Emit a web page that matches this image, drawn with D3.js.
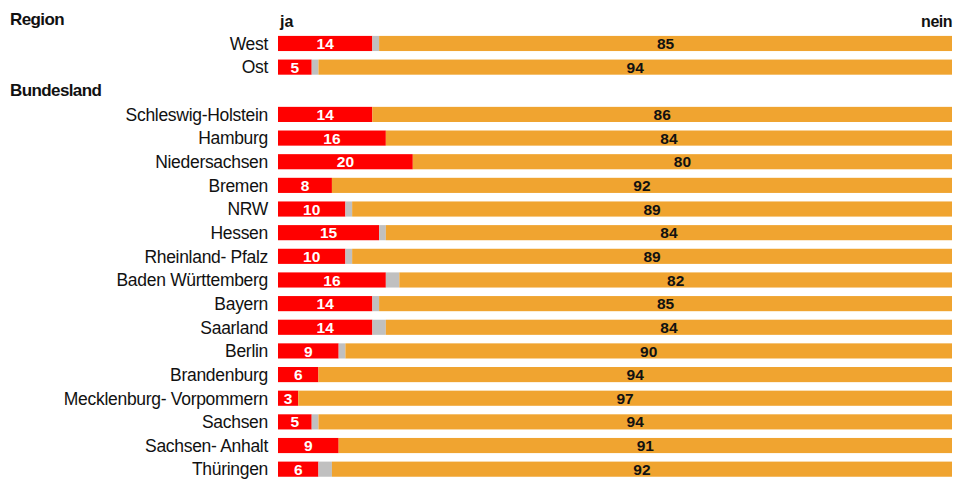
<!DOCTYPE html>
<html>
<head>
<meta charset="utf-8">
<script src="https://cdn.jsdelivr.net/npm/d3@7"></script>
<style>
  body { margin: 0; background: #fff; }
  text { font-family: "Liberation Sans", Arial, sans-serif; }
</style>
</head>
<body>
<script>
// rows: group headers are rows without values
var rows = ["Region", "West", "Ost", "Bundesland", "Schleswig-Holstein", "Hamburg",
  "Niedersachsen", "Bremen", "NRW", "Hessen", "Rheinland- Pfalz", "Baden Württemberg",
  "Bayern", "Saarland", "Berlin", "Brandenburg", "Mecklenburg- Vorpommern", "Sachsen",
  "Sachsen- Anhalt", "Thüringen"];
var headers = ["Region", "Bundesland"];

var categories = ["West", "Ost", "Schleswig-Holstein", "Hamburg", "Niedersachsen", "Bremen",
  "NRW", "Hessen", "Rheinland- Pfalz", "Baden Württemberg", "Bayern", "Saarland", "Berlin",
  "Brandenburg", "Mecklenburg- Vorpommern", "Sachsen", "Sachsen- Anhalt", "Thüringen"];
var ja =        [14, 5, 14, 16, 20, 8, 10, 15, 10, 16, 14, 14, 9, 6, 3, 5, 9, 6];
var weissNicht = [1, 1, 0, 0, 0, 0, 1, 1, 1, 2, 1, 2, 1, 0, 0, 1, 0, 2];
var nein =      [85, 94, 86, 84, 80, 92, 89, 84, 89, 82, 85, 84, 90, 94, 97, 94, 91, 92];

var width = 960, height = 483;
var margin = {top: 8, right: 8, bottom: 2, left: 278};

var svg = d3.select("body").append("svg")
  .attr("width", width)
  .attr("height", height);

var x = d3.scaleLinear().domain([0, 100]).range([margin.left, width - margin.right]);
var y = d3.scaleBand().domain(rows).range([margin.top, height - margin.bottom]).paddingInner(0.36).paddingOuter(0.18);

var data = categories.map(function(c, i) {
  return {name: c, ja: ja[i], wn: weissNicht[i], nein: nein[i]};
});

var stack = d3.stack().keys(["ja", "wn", "nein"])(data);
var colors = {ja: "#ff0000", wn: "#c0c0c0", nein: "#f0a430"};

// bars
svg.selectAll("g.layer")
  .data(stack)
  .enter().append("g")
  .attr("class", "layer")
  .attr("fill", function(d) { return colors[d.key]; })
  .selectAll("rect")
  .data(function(d) { return d; })
  .enter().append("rect")
  .attr("x", function(d) { return x(d[0]); })
  .attr("y", function(d) { return y(d.data.name); })
  .attr("width", function(d) { return x(d[1]) - x(d[0]); })
  .attr("height", y.bandwidth());

// value labels
svg.selectAll("text.ja")
  .data(data)
  .enter().append("text")
  .attr("class", "ja")
  .attr("x", function(d) { return x(d.ja / 2); })
  .attr("y", function(d) { return y(d.name) + y.bandwidth() / 2; })
  .attr("dy", "0.36em")
  .attr("text-anchor", "middle")
  .attr("fill", "#fff")
  .style("font-weight", "bold")
  .style("font-size", "15.5px")
  .text(function(d) { return d.ja; });

svg.selectAll("text.nein")
  .data(data)
  .enter().append("text")
  .attr("class", "nein")
  .attr("x", function(d) { return x(d.ja + d.wn + d.nein / 2); })
  .attr("y", function(d) { return y(d.name) + y.bandwidth() / 2; })
  .attr("dy", "0.36em")
  .attr("text-anchor", "middle")
  .attr("fill", "#111")
  .style("font-weight", "bold")
  .style("font-size", "15.5px")
  .text(function(d) { return d.nein; });

// category labels
svg.selectAll("text.cat")
  .data(categories)
  .enter().append("text")
  .attr("class", "cat")
  .attr("x", margin.left - 10)
  .attr("y", function(d) { return y(d) + y.bandwidth() / 2; })
  .attr("dy", "0.36em")
  .attr("text-anchor", "end")
  .attr("fill", "#111")
  .style("font-size", "17.5px")
  .style("letter-spacing", "-0.3px")
  .text(function(d) { return d; });

// group headers
svg.selectAll("text.head")
  .data(headers)
  .enter().append("text")
  .attr("class", "head")
  .attr("x", 10)
  .attr("y", function(d) { return y(d) + y.bandwidth() / 2 - 1; })
  .attr("dy", "0.36em")
  .attr("fill", "#111")
  .style("font-weight", "bold")
  .style("font-size", "17px")
  .style("letter-spacing", "-0.6px")
  .text(function(d) { return d; });

// ja / nein
svg.append("text")
  .attr("x", x(0) + 2)
  .attr("y", y("Region") + y.bandwidth() / 2 + 1)
  .attr("dy", "0.36em")
  .attr("fill", "#111")
  .style("font-weight", "bold")
  .style("font-size", "16px")
  .text("ja");

svg.append("text")
  .attr("x", x(100))
  .attr("y", y("Region") + y.bandwidth() / 2 + 1)
  .attr("dy", "0.36em")
  .attr("text-anchor", "end")
  .attr("fill", "#111")
  .style("font-weight", "bold")
  .style("font-size", "16px")
  .style("letter-spacing", "-0.5px")
  .text("nein");
</script>
</body>
</html>
